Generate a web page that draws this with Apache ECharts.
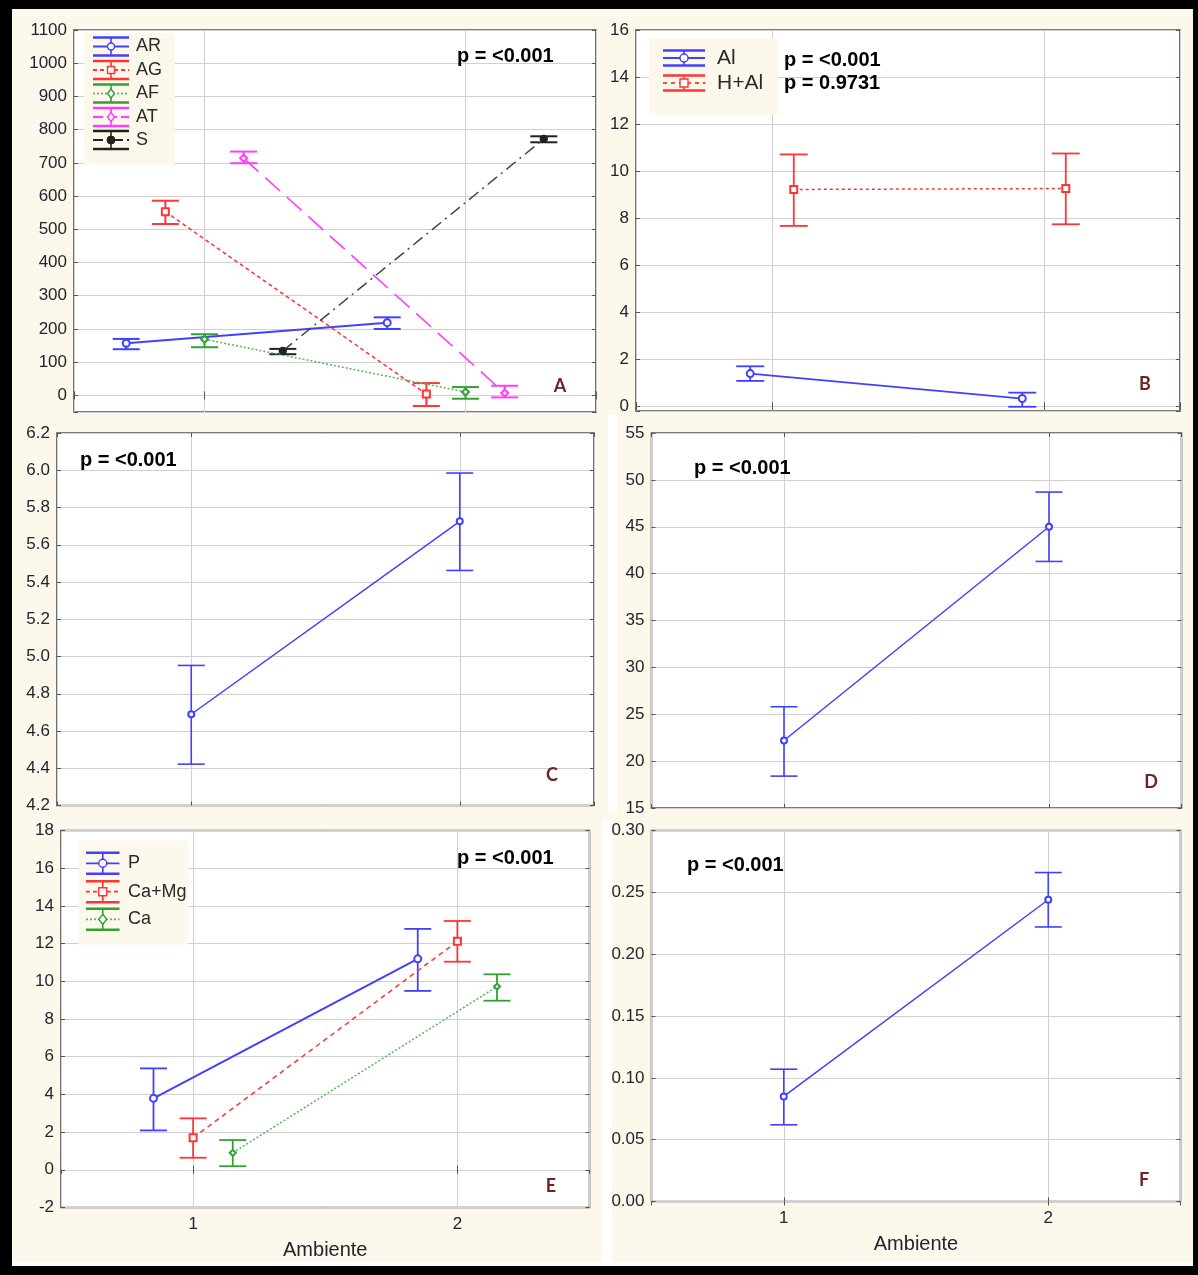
<!DOCTYPE html>
<html>
<head>
<meta charset="utf-8">
<script src="https://cdn.jsdelivr.net/npm/echarts@6/dist/echarts.min.js"></script>
<style>
html,body{margin:0;padding:0;background:#000;}
#chart{width:1198px;height:1275px;}
</style>
</head>
<body>
<div id="chart"></div>
<script>
// ================= DATA =================
const ambiente = [1, 2];

// Panel A
const arMean = [157, 219], arLow = [139, 200], arHigh = [170, 235];
const agMean = [553, 4],   agLow = [516, -32], agHigh = [586, 37];
const afMean = [169, 10],  afLow = [145, -10], afHigh = [184, 25];
const atMean = [714, 7],   atLow = [699, -6],  atHigh = [734, 29];
const sMean  = [134, 772], sLow  = [124, 762], sHigh  = [140, 780];
// Panel B
const alMean  = [1.39, 0.33], alLow  = [1.08, -0.02], alHigh  = [1.70, 0.58];
const halMean = [9.22, 9.26], halLow = [7.67, 7.74],  halHigh = [10.71, 10.75];
// Panel C
const cMean = [4.69, 5.726], cLow = [4.422, 5.462], cHigh = [4.952, 5.985];
// Panel D
const dMean = [22.2, 45.0], dLow = [18.4, 41.3], dHigh = [25.8, 48.7];
// Panel E
const pMean    = [3.79, 11.19], pLow    = [2.09, 9.49],  pHigh    = [5.38, 12.78];
const camgMean = [1.70, 12.12], camgLow = [0.64, 11.04], camgHigh = [2.73, 13.20];
const caMean   = [0.90, 9.72],  caLow   = [0.19, 8.97],  caHigh   = [1.58, 10.37];
// Panel F
const fMean = [0.085, 0.244], fLow = [0.062, 0.222], fHigh = [0.107, 0.266];

// Texts
const pTextA = 'p = <0.001';
const pTextB = ['p = <0.001', 'p = 0.9731'];
const pTextC = 'p = <0.001';
const pTextD = 'p = <0.001';
const pTextE = 'p = <0.001';
const pTextF = 'p = <0.001';
const xName = 'Ambiente';

// ================= STYLE / LAYOUT =================
const FONT = "'Liberation Sans', Arial, Helvetica, sans-serif";
const LABEL = '#24242e';
const GRIDC = '#d0d0d0';
const FRAME = '#505050';
const CREAM = '#fdf8ec';
const BLUE = '#4040ff', RED = '#ff3535', GREEN = '#33a033', MAGENTA = '#ff3cff', BLACK = '#222222';
const LETTER = '#6d2424';

const panels = [
  {grid:{left:74, top:30, width:522, height:382},   y:{min:-50, max:1100, splitNumber:11, fmt:v=>v<0?'':String(v)}, xLabels:false},
  {grid:{left:636, top:30, width:544, height:381},  y:{min:-0.2, max:16, splitNumber:8, fmt:v=>v<0?'':String(v)}, xLabels:false},
  {grid:{left:57, top:433, width:537, height:372.5},y:{min:4.2, max:6.2, interval:0.2, fmt:v=>v.toFixed(1)}, xLabels:false},
  {grid:{left:651.5, top:433, width:530, height:375},y:{min:15, max:55, interval:5, fmt:v=>String(v)}, xLabels:false},
  {grid:{left:61, top:830.5, width:528.5, height:377},y:{min:-2, max:18, interval:2, fmt:v=>String(v)}, xLabels:true},
  {grid:{left:651.5, top:830.5, width:529, height:371},y:{min:0, max:0.3, interval:0.05, fmt:v=>v.toFixed(2)}, xLabels:true}
];

const grids = [], xAxes = [], yAxes = [], series = [];

panels.forEach((p, gi) => {
  grids.push(Object.assign({show:true, backgroundColor:'#ffffff', borderColor:FRAME, borderWidth:1.6,
    containLabel:false, outerBoundsMode:'none'}, p.grid));
  const tick = {show:true, inside:true, length:4, lineStyle:{color:'#555', width:1}};
  xAxes.push({gridIndex:gi, type:'value', min:0.5, max:2.5, splitNumber:2, position:'bottom',
    axisLine:{show:false}, axisTick:tick,
    axisLabel:{show:p.xLabels, fontSize:17, color:LABEL, fontFamily:FONT, margin:8,
      showMinLabel:false, showMaxLabel:false,
      formatter:v => Number.isInteger(v) ? String(v) : ''},
    splitLine:{show:true, lineStyle:{color:GRIDC, width:1}},
    name:p.xLabels ? xName : '', nameLocation:'middle', nameGap:33,
    nameTextStyle:{fontSize:20, color:LABEL, fontFamily:FONT}
  });
  xAxes.push({gridIndex:gi, type:'value', min:0.5, max:2.5, splitNumber:2, position:'top',
    axisLine:{show:false}, axisTick:tick, axisLabel:{show:false}, splitLine:{show:false}});
  const yBase = {gridIndex:gi, type:'value', min:p.y.min, max:p.y.max};
  if (p.y.interval) yBase.interval = p.y.interval; else yBase.splitNumber = p.y.splitNumber;
  yAxes.push(Object.assign({}, yBase, {position:'left',
    axisLine:{show:false}, axisTick:tick,
    axisLabel:{fontSize:17, color:LABEL, fontFamily:FONT, margin:7, formatter:p.y.fmt},
    splitLine:{show:true, lineStyle:{color:GRIDC, width:1}}}));
  yAxes.push(Object.assign({}, yBase, {position:'right',
    axisLine:{show:false}, axisTick:tick, axisLabel:{show:false}, splitLine:{show:false}}));
});

function errorBarRender(color, hw, lw) {
  return function (params, api) {
    const x = api.value(0), lo = api.value(1), hi = api.value(2);
    const a = api.coord([x, lo]), b = api.coord([x, hi]);
    const st = {stroke:color, lineWidth:lw, fill:null};
    return {type:'group', children:[
      {type:'line', shape:{x1:a[0], y1:a[1], x2:b[0], y2:b[1]}, style:st},
      {type:'line', shape:{x1:b[0]-hw, y1:b[1], x2:b[0]+hw, y2:b[1]}, style:st},
      {type:'line', shape:{x1:a[0]-hw, y1:a[1], x2:a[0]+hw, y2:a[1]}, style:st}
    ]};
  };
}

function addSeries(gi, name, mean, low, high, offset, st) {
  const xs = ambiente.map(v => v + offset);
  series.push({type:'custom', name:name, xAxisIndex:2*gi, yAxisIndex:2*gi, z:3, silent:true,
    renderItem:errorBarRender(st.ebColor || st.color, st.hw || 13.5, st.ebw || 1.5),
    encode:{x:0, y:[1,2]},
    data:xs.map((x,i) => [x, low[i], high[i]])});
  series.push({type:'line', name:name, xAxisIndex:2*gi, yAxisIndex:2*gi, z:4, silent:true,
    data:xs.map((x,i) => [x, mean[i]]),
    symbol:st.symbol, symbolSize:st.size,
    lineStyle:{color:st.lineColor || st.color, width:st.lw, type:st.dash || 'solid'},
    itemStyle:{color:st.color, borderColor:st.color, borderWidth:1.3}});
}

// Panel A
addSeries(0, 'AR', arMean, arLow, arHigh, -0.3, {color:BLUE, symbol:'emptyCircle', size:7, lw:2, ebw:2});
addSeries(0, 'AG', agMean, agLow, agHigh, -0.15, {color:RED, symbol:'emptyRect', size:7, lw:1.5, dash:[4,3], ebw:2});
addSeries(0, 'AF', afMean, afLow, afHigh, 0, {color:GREEN, lineColor:'#5cb85c', symbol:'emptyDiamond', size:7, lw:1.6, dash:[2,2], ebw:2});
addSeries(0, 'AT', atMean, atLow, atHigh, 0.15, {color:MAGENTA, symbol:'emptyDiamond', size:7, lw:1.6, dash:[20,9], ebw:2});
addSeries(0, 'S', sMean, sLow, sHigh, 0.3, {color:BLACK, lineColor:'#444', symbol:'circle', size:7, lw:1.5, dash:[12,5,2,5], ebw:2});
// Panel B
addSeries(1, 'Al', alMean, alLow, alHigh, -0.08, {color:BLUE, symbol:'emptyCircle', size:7, lw:1.8, ebw:1.8, hw:14});
addSeries(1, 'H+Al', halMean, halLow, halHigh, 0.08, {color:RED, symbol:'emptyRect', size:7, lw:1.5, dash:[3,3], ebw:1.8, hw:14});
// Panel C, D
addSeries(2, 'C', cMean, cLow, cHigh, 0, {color:BLUE, symbol:'emptyCircle', size:6, lw:1.5, ebw:1.6});
addSeries(3, 'D', dMean, dLow, dHigh, 0, {color:BLUE, symbol:'emptyCircle', size:6, lw:1.5, ebw:1.6});
// Panel E
addSeries(4, 'P', pMean, pLow, pHigh, -0.15, {color:BLUE, symbol:'emptyCircle', size:7, lw:2, ebw:1.8});
addSeries(4, 'Ca+Mg', camgMean, camgLow, camgHigh, 0, {color:RED, symbol:'emptyRect', size:7, lw:1.5, dash:[5,4], ebw:1.8});
addSeries(4, 'Ca', caMean, caLow, caHigh, 0.15, {color:GREEN, lineColor:'#5cb85c', symbol:'emptyDiamond', size:6, lw:1.6, dash:[2,2], ebw:1.8});
// Panel F
addSeries(5, 'F', fMean, fLow, fHigh, 0, {color:BLUE, symbol:'emptyCircle', size:6, lw:1.5, ebw:1.6});

// ================= GRAPHICS (frame, legends, texts) =================
const graphics = [];
graphics.push({type:'rect', z:-1, silent:true, shape:{x:12, y:9, width:1181, height:1257}, style:{fill:CREAM}});
graphics.push({type:'rect', z:-1, silent:true, shape:{x:608, y:415, width:9, height:397}, style:{fill:'#ffffff'}});
graphics.push({type:'rect', z:-1, silent:true, shape:{x:602, y:820, width:10, height:443}, style:{fill:'#ffffff'}});
graphics.push({type:'rect', z:-1, silent:true, shape:{x:12, y:1262, width:1181, height:4}, style:{fill:'#ffffff'}});

function markerEl(kind, cx, cy, r, color) {
  const st = {fill:'#ffffff', stroke:color, lineWidth:1.4};
  if (kind === 'circle') return {type:'circle', z:51, shape:{cx:cx, cy:cy, r:r}, style:st};
  if (kind === 'dot') return {type:'circle', z:51, shape:{cx:cx, cy:cy, r:r}, style:{fill:color, stroke:color}};
  if (kind === 'rect') return {type:'rect', z:51, shape:{x:cx-r, y:cy-r, width:2*r, height:2*r}, style:st};
  return {type:'polygon', z:51, shape:{points:[[cx,cy-r-1],[cx+r,cy],[cx,cy+r+1],[cx-r,cy]]}, style:st};
}
function legendEntry(x0, x1, cy, hh, color, lineColor, dash, kind, r, wlw, text, tx, fs) {
  const cx = (x0 + x1) / 2;
  const s = {stroke:color, lineWidth:wlw};
  graphics.push({type:'line', z:50, silent:true, shape:{x1:x0, y1:cy-hh, x2:x1, y2:cy-hh}, style:s});
  graphics.push({type:'line', z:50, silent:true, shape:{x1:x0, y1:cy+hh, x2:x1, y2:cy+hh}, style:s});
  graphics.push({type:'line', z:50, silent:true, shape:{x1:cx, y1:cy-hh, x2:cx, y2:cy+hh}, style:{stroke:color, lineWidth:1.6}});
  graphics.push({type:'line', z:50, silent:true, shape:{x1:x0, y1:cy, x2:x1, y2:cy}, style:{stroke:lineColor, lineWidth:1.8, lineDash:dash}});
  graphics.push(markerEl(kind, cx, cy, r, color));
  graphics.push({type:'text', z:52, silent:true, style:{text:text, x:tx, y:cy, font:'normal '+fs+'px '+FONT, fill:'#2a2a2a', textAlign:'left', textVerticalAlign:'middle'}});
}
function txt(text, x, y, font, fill) {
  graphics.push({type:'text', z:60, silent:true, style:{text:text, x:x, y:y, font:font, fill:fill, textAlign:'left', textVerticalAlign:'middle'}});
}
function letter(text, cx, cy) {
  graphics.push({type:'text', z:60, silent:true, style:{text:text, x:cx, y:cy, font:"bold 18px Lato, 'Liberation Sans', sans-serif", fill:LETTER, textAlign:'center', textVerticalAlign:'middle'}});
}

// Legend A
graphics.push({type:'rect', z:40, silent:true, shape:{x:84, y:33, width:91, height:132}, style:{fill:CREAM}});
legendEntry(93, 129, 46.5, 9, BLUE, BLUE, null, 'circle', 3.5, 2.5, 'AR', 136, 18);
legendEntry(93, 129, 70, 9, RED, RED, [4,3], 'rect', 3.5, 2.5, 'AG', 136, 18);
legendEntry(93, 129, 93.5, 9, GREEN, '#5cb85c', [2,2], 'diamond', 3.5, 2.5, 'AF', 136, 18);
legendEntry(93, 129, 117, 9, MAGENTA, MAGENTA, [10,4], 'diamond', 3.5, 2.5, 'AT', 136, 18);
legendEntry(93, 129, 140, 9, BLACK, BLACK, [10,4,2,4], 'dot', 4, 2.5, 'S', 136, 18);
// Legend B
graphics.push({type:'rect', z:40, silent:true, shape:{x:649, y:38, width:129, height:77}, style:{fill:CREAM}});
legendEntry(663, 705, 58, 7.5, BLUE, BLUE, null, 'circle', 4, 2.5, 'Al', 717, 21);
legendEntry(663, 705, 83, 7.5, RED, RED, [4,4], 'rect', 4, 2.5, 'H+Al', 717, 21);
// Legend E
graphics.push({type:'rect', z:40, silent:true, shape:{x:78.5, y:840.5, width:110, height:104.5}, style:{fill:CREAM}});
legendEntry(86, 119.5, 863.3, 10.5, BLUE, BLUE, null, 'circle', 4, 2.5, 'P', 128, 18);
legendEntry(86, 119.5, 891.7, 10.5, RED, RED, [4,3], 'rect', 4, 2.5, 'Ca+Mg', 128, 18);
legendEntry(86, 119.5, 919.3, 10.5, GREEN, '#5cb85c', [2,2], 'diamond', 4, 2.5, 'Ca', 128, 18);

// p-value texts
const PF = 'bold 20px ' + FONT;
txt(pTextA, 457, 56, PF, '#000');
txt(pTextB[0], 784, 60, PF, '#000');
txt(pTextB[1], 784, 83, PF, '#000');
txt(pTextC, 80, 460, PF, '#000');
txt(pTextD, 694, 468, PF, '#000');
txt(pTextE, 457, 858, PF, '#000');
txt(pTextF, 687, 865, PF, '#000');
// panel letters
letter('A', 560, 386);
letter('B', 1145, 384);
letter('C', 552, 775);
letter('D', 1151, 782);
letter('E', 551, 1186);
letter('F', 1144, 1180);

const chart = echarts.init(document.getElementById('chart'), null, {renderer:'canvas'});
chart.setOption({
  backgroundColor:'#000000',
  animation:false,
  grid:grids, xAxis:xAxes, yAxis:yAxes, series:series,
  graphic:{elements:graphics}
});
</script>
</body>
</html>
